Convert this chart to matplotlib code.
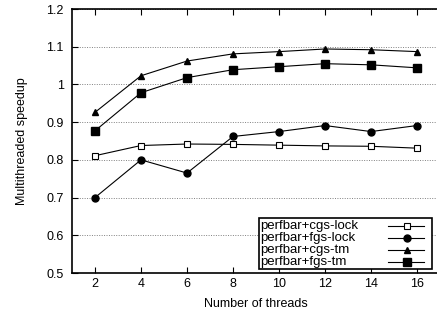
import matplotlib
matplotlib.use("Agg")
import matplotlib.pyplot as plt
from matplotlib.lines import Line2D
from matplotlib.patches import Rectangle

threads = [2, 4, 6, 8, 10, 12, 14, 16]
cgs_lock = [0.811, 0.838, 0.842, 0.841, 0.839, 0.837, 0.836, 0.831]
fgs_lock = [0.700, 0.800, 0.765, 0.862, 0.875, 0.891, 0.875, 0.891]
cgs_tm = [0.926, 1.023, 1.062, 1.081, 1.087, 1.094, 1.092, 1.087]
fgs_tm = [0.877, 0.978, 1.018, 1.039, 1.047, 1.055, 1.052, 1.044]
labels = ["perfbar+cgs-lock", "perfbar+fgs-lock", "perfbar+cgs-tm", "perfbar+fgs-tm"]

plt.rcParams["font.family"] = ["Liberation Sans", "DejaVu Sans"]

styles = [
    dict(color="black", lw=0.8, marker="s", ms=5, mfc="white", mec="black", mew=0.8),
    dict(color="black", lw=0.8, marker="o", ms=5),
    dict(color="black", lw=0.8, marker="^", ms=4),
    dict(color="black", lw=0.8, marker="s", ms=5.5),
]

fig = plt.figure(figsize=(4.37, 3.16), dpi=100)
# axes run past the right edge of the picture, like the original
ax = fig.add_axes([72 / 437, (316 - 273) / 316, 368 / 437, 264 / 316])

for ys, st in zip([cgs_lock, fgs_lock, cgs_tm, fgs_tm], styles):
    ax.plot(threads, ys, **st)

ax.set_xlim(1, 17)
ax.set_ylim(0.5, 1.2)
ax.set_xticks(threads)
ax.set_yticks([0.5, 0.6, 0.7, 0.8, 0.9, 1.0, 1.1, 1.2])
ax.set_yticklabels(["0.5", "0.6", "0.7", "0.8", "0.9", "1", "1.1", "1.2"])
ax.tick_params(direction="in", top=True, right=False, labelsize=9, length=4, width=0.8)
ax.tick_params(axis="y", pad=6)
ax.yaxis.grid(True, linestyle=(0, (1, 1.5)), color="gray", lw=0.7)
for s in ax.spines.values():
    s.set_linewidth(1.2)

ax.set_xlabel("Number of threads", fontsize=9, labelpad=6)
ax.set_ylabel("Multithreaded speedup", fontsize=9, labelpad=13)

# gnuplot style key: text on the left, sample on the right
def px(x, y):
    return (x - 72) / 368, (273 - y) / 264

x0, y0 = px(259, 269)
x1, y1 = px(432, 218)
ax.add_patch(Rectangle((x0, y0), x1 - x0, y1 - y0, transform=ax.transAxes,
                       fill=True, facecolor="white", edgecolor="black", lw=1.2, zorder=5))
for i, (lab, st) in enumerate(zip(labels, styles)):
    row = 226 + i * 12
    tx, ty = px(260, row)
    ax.text(tx, ty, lab, transform=ax.transAxes, fontsize=9.5, ha="left", va="center", zorder=6)
    la, _ = px(388, row)
    lb, _ = px(424, row)
    lm, _ = px(407, row)
    ax.add_line(Line2D([la, lb], [ty, ty], transform=ax.transAxes, color="black",
                       lw=0.8, zorder=6))
    mst = {k: v for k, v in st.items() if k != "lw"}
    ax.add_line(Line2D([lm], [ty], transform=ax.transAxes, ls="none", zorder=6, **mst))

fig.savefig("out.png", dpi=100)
